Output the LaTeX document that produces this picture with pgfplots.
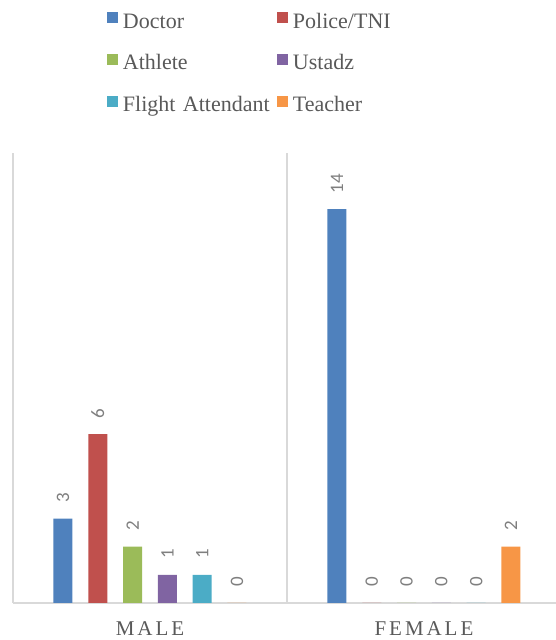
\documentclass[border=0pt]{standalone}
\usepackage{fontspec}
\usepackage{pgfplots}
\pgfplotsset{compat=1.18}
\newfontfamily\serifF{Liberation Serif}
\newfontfamily\tickF{Liberation Serif}[LetterSpace=14]
\newfontfamily\labF{Carlito}
\definecolor{cDoc}{HTML}{4F81BD}
\definecolor{cPol}{HTML}{C0504D}
\definecolor{cAth}{HTML}{9BBB59}
\definecolor{cUst}{HTML}{8064A2}
\definecolor{cFli}{HTML}{4BACC6}
\definecolor{cTea}{HTML}{F79646}
\definecolor{gridgray}{HTML}{D9D9D9}
\definecolor{txtgray}{HTML}{595959}
\definecolor{labgray}{HTML}{7F7F7F}
\begin{document}
\begin{tikzpicture}
\path[use as bounding box] (0,0) rectangle (556bp,640bp);
\begin{axis}[
  at={(13bp,37bp)}, anchor=south west,
  scale only axis, width=543bp, height=450bp,
  xmin=-0.5, xmax=1.4818, ymin=0, ymax=16,
  clip=false,
  ybar, bar width=19bp,
  axis x line*=bottom, axis y line=none,
  x axis line style={draw=gridgray, line width=1.5bp, -},
  xtick={0,1}, xticklabels={MALE,FEMALE},
  major tick length=0pt,
  xticklabel style={font=\tickF\fontsize{21bp}{24bp}\selectfont, text=txtgray, anchor=north, inner sep=0pt, yshift=-18bp},
  extra x ticks={-0.5,0.5}, extra x tick labels={},
  extra x tick style={grid=major, major grid style={draw=gridgray, line width=1.5bp}},
  nodes near coords={\pgfmathprintnumber[assume math mode=true]{\pgfplotspointmeta}},
  every node near coord/.append style={rotate=90, anchor=west, inner xsep=16bp, inner ysep=0pt, font=\labF\fontsize{19bp}{20bp}\selectfont, text=labgray},
  legend columns=2,
  legend cell align=left,
  legend image code/.code={\fill[#1] (0bp,0bp) rectangle (11bp,11bp);},
  legend style={draw=none, fill=none, inner sep=0pt, outer sep=0pt,
    at={(axis description cs:0.1731,1.3127)}, anchor=north west,
    font=\serifF\fontsize{22bp}{26bp}\selectfont, text=txtgray,
    row sep=19.7bp,
    nodes={inner sep=0pt, text width=154bp, text height=16bp, text depth=6bp},
    /tikz/every odd column/.style={column sep=5bp}},
]
\addplot[fill=cDoc, draw=none, bar shift=-87bp] coordinates {(0,3) (1,14)};
\addplot[fill=cPol, draw=none, bar shift=-52.2bp] coordinates {(0,6) (1,0)};
\addplot[fill=cAth, draw=none, bar shift=-17.4bp] coordinates {(0,2) (1,0)};
\addplot[fill=cUst, draw=none, bar shift=17.4bp] coordinates {(0,1) (1,0)};
\addplot[fill=cFli, draw=none, bar shift=52.2bp] coordinates {(0,1) (1,0)};
\addplot[fill=cTea, draw=none, bar shift=87bp] coordinates {(0,0) (1,2)};
\legend{Doctor, Police/TNI, Athlete, Ustadz, Flight Attendant, Teacher}
\end{axis}
\end{tikzpicture}
\end{document}
